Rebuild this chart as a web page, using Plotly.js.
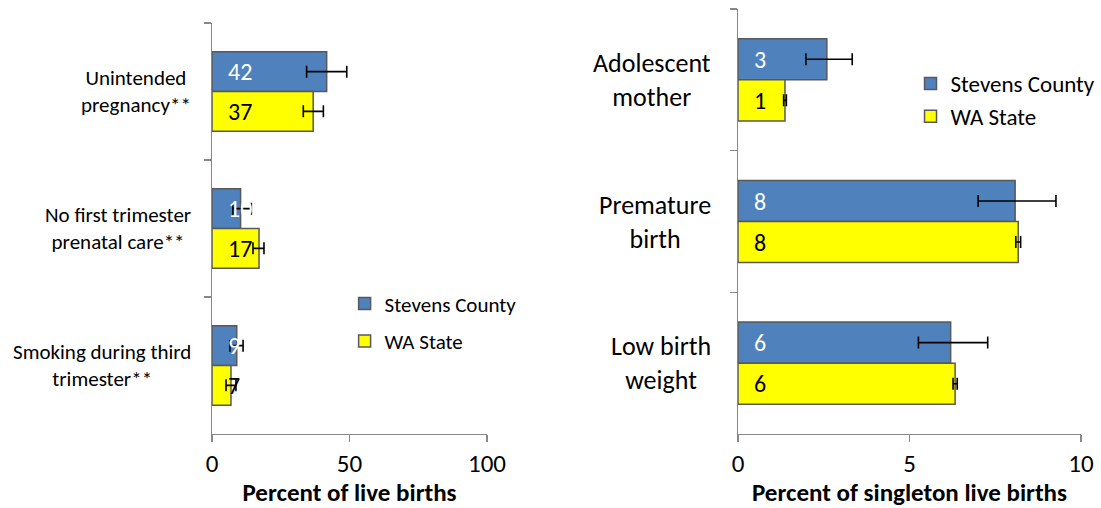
<!DOCTYPE html>
<html>
<head>
<meta charset="utf-8">
<script src="https://cdn.plot.ly/plotly-3.0.1.min.js"></script>
<style>html,body{margin:0;padding:0;background:#fff;}#chart{width:1101px;height:508px;}</style>
</head>
<body>
<div id="chart"></div>
<script>
// ---- Left panel data ----
const leftCategories = ["Unintended<br>pregnancy**", "No first trimester<br>prenatal care**", "Smoking during third<br>trimester**"];
const leftStevens = [41.7, 10.4, 9.0];
const leftStevensErrPlus = [7.3, 3.9, 2.3];
const leftStevensErrMinus = [7.3, 2.8, 2.5];
const leftWA = [36.8, 17.1, 6.9];
const leftWAErrPlus = [3.7, 1.8, 1.8];
const leftWAErrMinus = [3.6, 2.2, 1.8];
const leftTicks = [0, 50, 100];

// ---- Right panel data ----
const rightCategories = ["Adolescent<br>mother", "Premature<br>birth", "Low birth<br>weight"];
const rightStevens = [2.59, 8.08, 6.2];
const rightStevensErrPlus = [0.74, 1.19, 1.08];
const rightStevensErrMinus = [0.61, 1.08, 0.94];
const rightWA = [1.37, 8.17, 6.33];
const rightWAErrPlus = [0.04, 0.07, 0.06];
const rightWAErrMinus = [0.04, 0.07, 0.06];
const rightTicks = [0, 5, 10];

const seriesNames = ["Stevens County", "WA State"];
const seriesColors = ["#4F81BD", "#FFFF00"];
const labelColors = ["#FFFFFF", "#000000"];

const FONT = 'Carlito, Calibri, Lato, sans-serif';
const outline = {color: '#595959', width: 1.5};

function barTrace(name, vals, plus, minus, cats, color, xa, ya, legend, grp) {
  return {
    type: 'bar', orientation: 'h', name: name,
    x: vals, y: cats, xaxis: xa, yaxis: ya, legend: legend, legendgroup: grp,
    marker: {color: color, line: outline},
    error_x: {type: 'data', symmetric: false, array: plus, arrayminus: minus,
              color: '#000', thickness: 1.6, width: 6},
    hoverinfo: 'x+y'
  };
}

const data = [
  barTrace(seriesNames[0], leftStevens, leftStevensErrPlus, leftStevensErrMinus, leftCategories, seriesColors[0], 'x', 'y', 'legend', 'a'),
  barTrace(seriesNames[1], leftWA, leftWAErrPlus, leftWAErrMinus, leftCategories, seriesColors[1], 'x', 'y', 'legend', 'b'),
  barTrace(seriesNames[0], rightStevens, rightStevensErrPlus, rightStevensErrMinus, rightCategories, seriesColors[0], 'x2', 'y2', 'legend2', 'c'),
  barTrace(seriesNames[1], rightWA, rightWAErrPlus, rightWAErrMinus, rightCategories, seriesColors[1], 'x2', 'y2', 'legend2', 'd')
];

const annotations = [];
function addCatLabels(cats, xref, yref, size, shift) {
  cats.forEach(c => annotations.push({
    text: c, x: 0, y: c, xref: xref, yref: yref, xanchor: 'right', yanchor: 'middle',
    xshift: shift, align: 'center', showarrow: false, font: {family: FONT, size: size, color: '#000'}
  }));
}
function addValueLabels(cats, series, xref, yref, size, off) {
  series.forEach((vals, si) => {
    vals.forEach((v, i) => annotations.push({
      text: String(Math.round(v)), x: 0, y: cats[i], xref: xref, yref: yref,
      xanchor: 'left', yanchor: 'middle', xshift: 14, yshift: si === 0 ? off : -off,
      showarrow: false, font: {family: FONT, size: size, color: labelColors[si]}
    }));
  });
}
addCatLabels(leftCategories, 'x', 'y', 21, -19);
addCatLabels(rightCategories, 'x2', 'y2', 26, -25);
addValueLabels(leftCategories, [leftStevens, leftWA], 'x', 'y', 24, 20);
addValueLabels(rightCategories, [rightStevens, rightWA], 'x2', 'y2', 24, 20.5);

const xCommon = {
  showline: true, linecolor: '#888', linewidth: 1.3, ticks: 'outside', ticklen: 7, tickcolor: '#888', tickwidth: 1.3,
  showgrid: false, zeroline: false, tickfont: {family: FONT, size: 25, color: '#000'}, fixedrange: true,
  automargin: false, ticklabelstandoff: 0
};
const yCommon = {
  type: 'category', autorange: 'reversed', showline: true, linecolor: '#888', linewidth: 1.3,
  ticks: 'outside', tickson: 'boundaries', ticklen: 7, tickcolor: '#888', tickwidth: 1.3,
  showticklabels: false, showgrid: false, zeroline: false, fixedrange: true, automargin: false
};

const layout = {
  width: 1101, height: 508,
  margin: {l: 0, r: 0, t: 0, b: 0, pad: 0, autoexpand: false},
  paper_bgcolor: '#fff', plot_bgcolor: '#fff',
  barmode: 'group', bargap: 0.42, bargroupgap: 0,
  font: {family: FONT, color: '#000'},
  showlegend: true,
  xaxis: Object.assign({}, xCommon, {domain: [0.19255, 0.44233], anchor: 'y', range: [0, 100], tickvals: leftTicks,
    title: {text: '<b>Percent of live births</b>', font: {family: FONT, size: 25, color: '#000'}, standoff: 2}}),
  yaxis: Object.assign({}, yCommon, {domain: [0.14567, 0.95472], anchor: 'x'}),
  xaxis2: Object.assign({}, xCommon, {domain: [0.6703, 0.98183], anchor: 'y2', range: [0, 10], tickvals: rightTicks,
    title: {text: '<b>Percent of singleton live births</b>', font: {family: FONT, size: 25, color: '#000'}, standoff: 2}}),
  yaxis2: Object.assign({}, yCommon, {domain: [0.14567, 0.98228], anchor: 'x2'}),
  legend: {x: 0.313, y: 0.442, xanchor: 'left', yanchor: 'top', bgcolor: 'rgba(0,0,0,0)',
    font: {family: FONT, size: 21, color: '#000'}, tracegroupgap: 7, traceorder: 'grouped'},
  legend2: {x: 0.827, y: 0.878, xanchor: 'left', yanchor: 'top', bgcolor: 'rgba(0,0,0,0)',
    font: {family: FONT, size: 23, color: '#000'}, tracegroupgap: 0, traceorder: 'normal'},
  annotations: annotations
};

Plotly.newPlot('chart', data, layout, {displayModeBar: false, staticPlot: true});
</script>
</body>
</html>
